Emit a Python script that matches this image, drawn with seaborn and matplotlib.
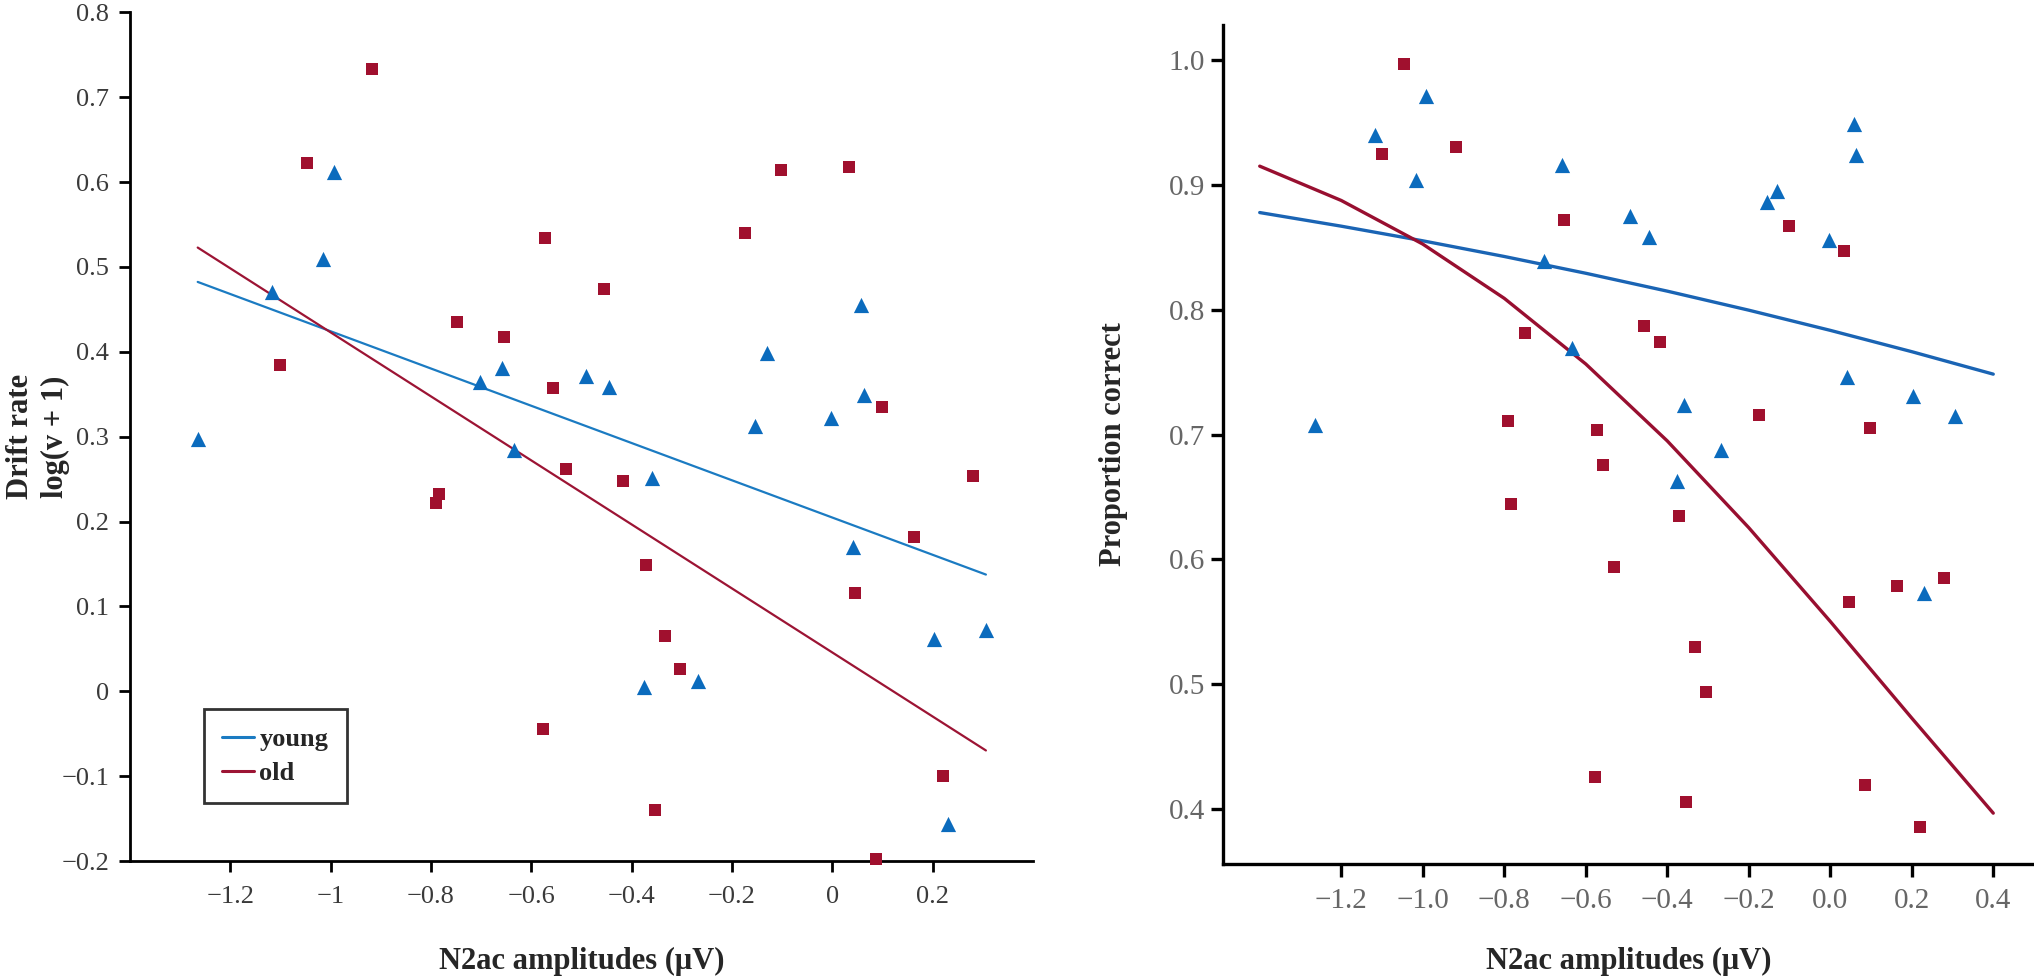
import numpy as np
import pandas as pd
import matplotlib
matplotlib.use("Agg")
import matplotlib.pyplot as plt
from matplotlib.ticker import FuncFormatter
import seaborn as sns

# N2ac amplitude of each participant (same people in both panels)
young_amp = [-1.265, -1.116, -1.016, -0.993, -0.703, -0.659, -0.634, -0.491, -0.445, -0.375, -0.360,
             -0.267, -0.155, -0.130, -0.002, 0.042, 0.058, 0.064, 0.203, 0.231, 0.306]
old_amp = [-1.101, -1.047, -0.918, -0.790, -0.784, -0.748, -0.654, -0.577, -0.572, -0.557, -0.530,
           -0.456, -0.417, -0.372, -0.353, -0.333, -0.304, -0.174, -0.102, 0.034, 0.045, 0.086,
           0.098, 0.163, 0.221, 0.280]

# drift rate log(v + 1)
young_drift = [0.297, 0.470, 0.509, 0.612, 0.364, 0.381, 0.284, 0.371, 0.359, 0.005, 0.251,
               0.012, 0.313, 0.399, 0.322, 0.170, 0.455, 0.349, 0.062, -0.156, 0.072]
old_drift = [0.385, 0.622, 0.733, 0.222, 0.233, 0.435, 0.418, -0.044, 0.534, 0.357, 0.262,
             0.474, 0.248, 0.149, -0.140, 0.065, 0.026, 0.540, 0.614, 0.618, 0.116, -0.198,
             0.335, 0.182, -0.100, 0.254]

# proportion correct
young_acc = [0.708, 0.940, 0.904, 0.971, 0.839, 0.916, 0.769, 0.875, 0.858, 0.663, 0.724,
             0.688, 0.886, 0.895, 0.856, 0.746, 0.949, 0.924, 0.731, 0.573, 0.715]
old_acc = [0.925, 0.997, 0.930, 0.711, 0.644, 0.781, 0.872, 0.426, 0.704, 0.676, 0.594,
           0.787, 0.774, 0.635, 0.406, 0.530, 0.494, 0.716, 0.867, 0.847, 0.566, 0.419,
           0.705, 0.579, 0.386, 0.585]

groups = ["young", "old"]
# fitted lines: (intercept, slope); drift is linear, accuracy is linear on the logit scale
drift_fit = {"young": (0.2047, -0.2195), "old": (0.0457, -0.3772)}
acc_fit = {"young": (1.286, -0.490), "old": (0.202, -1.553)}
acc_fit_grid = np.round(np.arange(-1.4, 0.401, 0.2), 2)

left_xticks = np.round(np.arange(-1.2, 0.21, 0.2), 2)
left_yticks = np.round(np.arange(-0.2, 0.81, 0.1), 2)
right_xticks = np.round(np.arange(-1.2, 0.41, 0.2), 2)
right_yticks = np.round(np.arange(0.4, 1.01, 0.1), 2)

marker_col = {"young": "#0b6bbd", "old": "#a0102e"}
line_col_l = {"young": "#1b7bc2", "old": "#9c1434"}
line_col_r = {"young": "#1a64b4", "old": "#980f30"}
markers = {"young": "^", "old": "s"}
msize = {"young": 120, "old": 68}

df = pd.DataFrame({
    "amp": young_amp + old_amp,
    "drift": young_drift + old_drift,
    "acc": young_acc + old_acc,
    "group": ["young"] * len(young_amp) + ["old"] * len(old_amp),
})

# fitted values
xs = np.linspace(df["amp"].min(), df["amp"].max(), 50)
fit_l = pd.concat([pd.DataFrame({"amp": xs, "drift": drift_fit[g][0] + drift_fit[g][1] * xs, "group": g})
                   for g in groups])
fit_r = pd.concat([pd.DataFrame({"amp": acc_fit_grid,
                                 "acc": 1 / (1 + np.exp(-(acc_fit[g][0] + acc_fit[g][1] * acc_fit_grid))),
                                 "group": g}) for g in groups])

sns.set_theme(style="ticks")
plt.rcParams['font.family'] = ['Liberation Serif', 'DejaVu Serif']

fig = plt.figure(figsize=(20.34, 9.80), dpi=100)
ax1 = fig.add_axes([0.0639, 0.1214, 0.444, 0.866])
ax2 = fig.add_axes([0.6013, 0.1184, 0.3987, 0.856])

sns.lineplot(data=fit_l, x="amp", y="drift", hue="group", hue_order=groups, palette=line_col_l,
             linewidth=1.6, ax=ax1, legend=False)
sns.lineplot(data=fit_r, x="amp", y="acc", hue="group", hue_order=groups, palette=line_col_r,
             linewidth=2.4, ax=ax2, legend=False)

for ax, col in [(ax1, "drift"), (ax2, "acc")]:
    for g in groups:
        sub = df[df["group"] == g]
        sns.scatterplot(data=sub, x="amp", y=col, color=marker_col[g], marker=markers[g], s=msize[g],
                        linewidth=0, ax=ax, legend=False, clip_on=False, zorder=3)


def fmt_g(v, p):
    return f"{round(v, 2) + 0:g}".replace("-", "\u2212")


def fmt_1(v, p):
    return f"{round(v, 2) + 0:.1f}".replace("-", "\u2212")


# left panel
ax1.set_xlim(-1.4, 0.4)
ax1.set_ylim(-0.2, 0.8)
ax1.set_xticks(left_xticks)
ax1.set_yticks(left_yticks)
ax1.xaxis.set_major_formatter(FuncFormatter(fmt_g))
ax1.yaxis.set_major_formatter(FuncFormatter(fmt_g))
ax1.tick_params(length=8, width=2, labelsize=19, labelcolor="#3a3a3a", color="black", pad=7)
ax1.tick_params(axis="x", pad=10)
ax1.set_xlabel("N2ac amplitudes (\u03bcV)", fontsize=22, fontweight="bold")
ax1.set_ylabel("Drift rate\nlog(v + 1)", fontsize=22, fontweight="bold", linespacing=1.3)
ax1.xaxis.set_label_coords(0.5, -0.101)
ax1.yaxis.set_label_coords(-0.066, 0.5)
leg = ax1.legend(handles=ax1.lines[:2], labels=groups, loc="lower left", bbox_to_anchor=(0.082, 0.068),
                 prop={"size": 19, "weight": "bold"}, frameon=True, fancybox=False, handlelength=1.2,
                 handletextpad=0.2, labelspacing=0.4, borderpad=0.7, borderaxespad=0)
leg.get_frame().set_edgecolor("black")
leg.get_frame().set_linewidth(2)
for h in leg.get_lines():
    h.set_linewidth(2.2)

# right panel
ax2.set_xlim(-1.49, 0.5)
ax2.set_ylim(0.356, 1.028)
ax2.set_xticks(right_xticks)
ax2.set_yticks(right_yticks)
ax2.xaxis.set_major_formatter(FuncFormatter(fmt_1))
ax2.yaxis.set_major_formatter(FuncFormatter(fmt_1))
ax2.tick_params(length=9, width=2.4, labelsize=21, labelcolor="#666666", color="black", pad=4)
ax2.tick_params(axis="x", pad=8)
ax2.set_xlabel("N2ac amplitudes (\u03bcV)", fontsize=22, fontweight="bold")
ax2.set_ylabel("Proportion correct", fontsize=22, fontweight="bold")
ax2.xaxis.set_label_coords(0.5, -0.099)
ax2.yaxis.set_label_coords(-0.117, 0.5)

for ax, lw in [(ax1, 2.0), (ax2, 2.4)]:
    sns.despine(ax=ax)
    for s in ["left", "bottom"]:
        ax.spines[s].set_linewidth(lw)
        ax.spines[s].set_color("black")

fig.savefig("out.png", dpi=100)
